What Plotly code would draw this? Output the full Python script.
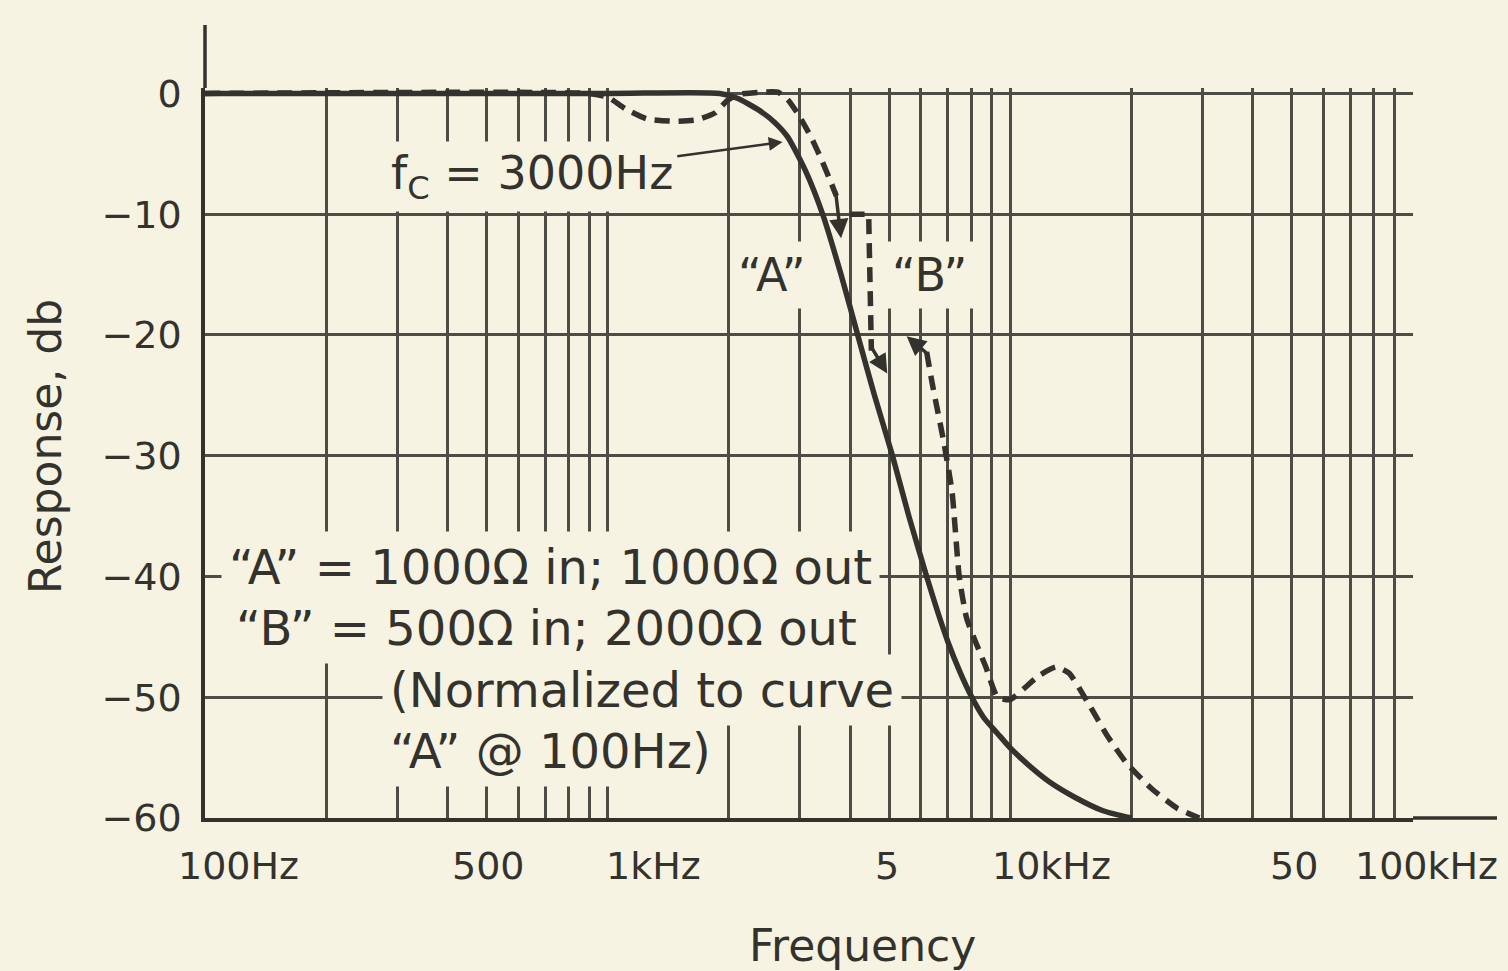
import math
import plotly.graph_objects as go

# ---------------- data ----------------
# Curve "A": 1000 ohm in / 1000 ohm out (solid)
A_FREQ_HZ = [100, 1000, 1900, 2100, 2380, 2600, 2800, 3100, 3420, 3800, 4180, 4600,
             5100, 5600, 6200, 6600, 7000, 7500, 8000, 8600, 9300, 10000, 11000, 12500,
             14500, 17000, 20000]
A_DB = [0, 0, 0, -0.4, -1.4, -2.4, -3.6, -6.4, -10, -15, -20, -25,
        -30, -35, -40, -42.9, -45.4, -47.9, -49.9, -51.7, -53.0, -54.2, -55.5, -57.0,
        -58.3, -59.4, -60]

# Curve "B": 500 ohm in / 2000 ohm out (dashed); None = break in the drawn line
B_FREQ_HZ = [100, 900, 1000, 1110, 1250, 1450, 1660, 1850, 1980, 2100, 2400, 2650,
             2800, 2970, 3200, 3400, 3600, 3700, None,
             6200, 6400, 6850, 7170, 7470, 7800, 8700, 9300, 10000, 10800, 11800,
             13000, 14000, 15500, 17500, 19500, 22500, 26000, 29500]
B_DB = [0, 0, -0.3, -1.3, -2.1, -2.3, -2.2, -1.6, -0.6, -0.1, 0.1, 0.1,
        -0.5, -1.7, -3.6, -5.5, -7.5, -8.5, None,
        -21.4, -24, -29, -33, -40, -43.5, -47.5, -50, -50.2, -49.3, -48.2,
        -47.5, -48, -50.3, -53.3, -55.5, -57.6, -59.2, -60]

# Notch bracket drawn on curve "B"
B_BRACKET_FREQ_HZ = [3990, 4450, 4520]
B_BRACKET_DB = [-10, -10, -21.3]

# Arrowheads drawn on curve "B" (tail -> tip)
B_ARROW_TAIL_HZ = [3680, 4520, 6250]
B_ARROW_TAIL_DB = [-8.0, -21.0, -21.6]
B_ARROW_TIP_HZ = [3800, 4950, 5530]
B_ARROW_TIP_DB = [-12.0, -23.2, -20.1]

# Cut-off marker
FC_TEXT = "f<sub>C</sub> = 3000Hz"
FC_POINT_HZ = 2750
FC_POINT_DB = -4.0
FC_TEXT_HZ = 648
FC_TEXT_DB = -6.85

CURVE_LABELS = ["\u201cA\u201d", "\u201cB\u201d"]
CURVE_LABEL_HZ = [2553, 6295]
CURVE_LABEL_DB = [-15.05, -15.05]

LEGEND_LINES = ["\u201cA\u201d = 1000\u03a9 in; 1000\u03a9 out",
                "\u201cB\u201d = 500\u03a9 in; 2000\u03a9 out",
                "(Normalized to curve",
                "\u201cA\u201d @ 100Hz)"]

X_TICK_VALUES = [100, 500, 1000, 5000, 10000, 50000, 100000]
X_TICK_LABELS = ["100Hz", "500", "1kHz", "5", "10kHz", "50", "100kHz"]
X_GRID_VALUES = [100, 200, 300, 400, 500, 600, 700, 800, 900,
                 1000, 2000, 3000, 4000, 5000, 6000, 7000, 8000, 9000,
                 10000, 20000, 30000, 40000, 50000, 60000, 70000, 80000, 90000,
                 100000]
Y_TICK_VALUES = [0, -10, -20, -30, -40, -50, -60]
Y_TICK_LABELS = ["0", "\u221210", "\u221220", "\u221230", "\u221240", "\u221250", "\u221260"]

# ---------------- style / layout ----------------
W, H = 1508, 971
ML, MR, MT, MB = 205, 95, 88, 153
PW, PH = W - ML - MR, H - MT - MB
BG = "#f7f3e3"
INK = "#33322c"
GRID = "#4e4d45"
FONT = "DejaVu Sans"
X_LABEL_SHIFT = [33, 2, 46, -2, 41, 2, 14]


def px_x(px):
    return (px - ML) / PW


def px_y(py):
    return (H - MB - py) / PH


def lg(v):
    return None if v is None else math.log10(v)


fig = go.Figure()

fig.add_trace(go.Scatter(
    x=B_FREQ_HZ, y=B_DB, mode="lines", connectgaps=False,
    line=dict(color=INK, width=5.5, dash="15px,9px", shape="spline", smoothing=0.5),
    hoverinfo="skip", showlegend=False))
fig.add_trace(go.Scatter(
    x=B_BRACKET_FREQ_HZ, y=B_BRACKET_DB, mode="lines",
    line=dict(color=INK, width=5.5, dash="15px,9px"),
    hoverinfo="skip", showlegend=False))
fig.add_trace(go.Scatter(
    x=A_FREQ_HZ, y=A_DB, mode="lines",
    line=dict(color=INK, width=5.5, shape="spline", smoothing=0.6),
    hoverinfo="skip", showlegend=False))

annotations = []

# arrowheads on curve B
for th, tdb, ph, pdb in zip(B_ARROW_TAIL_HZ, B_ARROW_TAIL_DB, B_ARROW_TIP_HZ, B_ARROW_TIP_DB):
    annotations.append(dict(
        x=lg(ph), y=pdb, xref="x", yref="y", axref="x", ayref="y",
        ax=lg(th), ay=tdb, text="", showarrow=True,
        arrowhead=2, arrowsize=1.1, arrowwidth=3.5, arrowcolor=INK))

# fc label + arrow
annotations.append(dict(
    x=lg(FC_POINT_HZ), y=FC_POINT_DB, xref="x", yref="y", axref="x", ayref="y",
    ax=lg(FC_TEXT_HZ), ay=FC_TEXT_DB, text=FC_TEXT, showarrow=True,
    arrowhead=2, arrowsize=1.1, arrowwidth=2.5, arrowcolor=INK, standoff=2,
    font=dict(family=FONT, size=46, color=INK), bgcolor=BG, borderpad=4))

# "A" / "B" labels
for t, fx, dbv in zip(CURVE_LABELS, CURVE_LABEL_HZ, CURVE_LABEL_DB):
    annotations.append(dict(
        x=lg(fx), y=dbv, xref="x", yref="y", xanchor="center", yanchor="middle",
        text=t, showarrow=False,
        font=dict(family=FONT, size=46, color=INK), bgcolor=BG, borderpad=6))

# legend text block
legend_pos = [(221, 567), (228, 628), (382, 690), (382, 751)]
for t, (lx, ly) in zip(LEGEND_LINES, legend_pos):
    annotations.append(dict(
        x=px_x(lx), y=px_y(ly), xref="paper", yref="paper", xanchor="left", yanchor="middle",
        text=t, showarrow=False, font=dict(family=FONT, size=48, color=INK),
        bgcolor=BG, borderpad=7))

# x tick labels
for v, t, sh in zip(X_TICK_VALUES, X_TICK_LABELS, X_LABEL_SHIFT):
    annotations.append(dict(
        x=lg(v), y=0, xref="x", yref="paper", yanchor="top", xanchor="center",
        xshift=sh, yshift=-24, text=t, showarrow=False,
        font=dict(family=FONT, size=38, color=INK)))

# axis titles
annotations.append(dict(
    x=px_x(862), y=px_y(945), xref="paper", yref="paper", xanchor="center", yanchor="middle",
    text="Frequency", showarrow=False, font=dict(family=FONT, size=44, color=INK)))
annotations.append(dict(
    x=px_x(45), y=px_y(447), xref="paper", yref="paper", xanchor="center", yanchor="middle",
    text="Response, db", textangle=-90, showarrow=False,
    font=dict(family=FONT, size=44, color=INK)))

shapes = [
    # hide the grid overshoot above 0 dB
    dict(type="rect", xref="paper", yref="y", x0=0, x1=1, y0=0.13, y1=0.45,
         fillcolor=BG, line=dict(width=0), layer="between"),
    # y axis line extended above the grid
    dict(type="line", xref="paper", yref="paper", x0=0, x1=0, y0=1, y1=px_y(25),
         line=dict(color=INK, width=3.5)),
    # x axis line extended past 100 kHz
    dict(type="line", xref="paper", yref="paper", x0=1, x1=px_x(1497), y0=0, y1=0,
         line=dict(color=INK, width=3.5)),
]

fig.update_layout(
    width=W, height=H,
    margin=dict(l=ML, r=MR, t=MT, b=MB, autoexpand=False),
    paper_bgcolor=BG, plot_bgcolor=BG,
    font=dict(family=FONT, color=INK),
    showlegend=False,
    annotations=annotations,
    shapes=shapes,
    xaxis=dict(
        type="log", range=[2, 5.0004], showticklabels=False, ticks="",
        tickmode="array", tickvals=X_GRID_VALUES,
        showgrid=True, gridcolor=GRID, gridwidth=2.6,
        showline=True, linecolor=INK, linewidth=3.5, zeroline=False, fixedrange=True),
    yaxis=dict(
        range=[-60, 0.45], tickmode="array", tickvals=Y_TICK_VALUES, ticktext=Y_TICK_LABELS,
        ticks="", ticklabelstandoff=12,
        tickfont=dict(family=FONT, size=38, color=INK),
        showgrid=True, gridcolor=GRID, gridwidth=2.6,
        showline=True, linecolor=INK, linewidth=3.5, zeroline=False, fixedrange=True),
)

fig.write_html(
    "out.html",
    config={"displayModeBar": False},
    post_script="document.body.style.margin='0';document.body.style.background='" + BG + "';",
)
